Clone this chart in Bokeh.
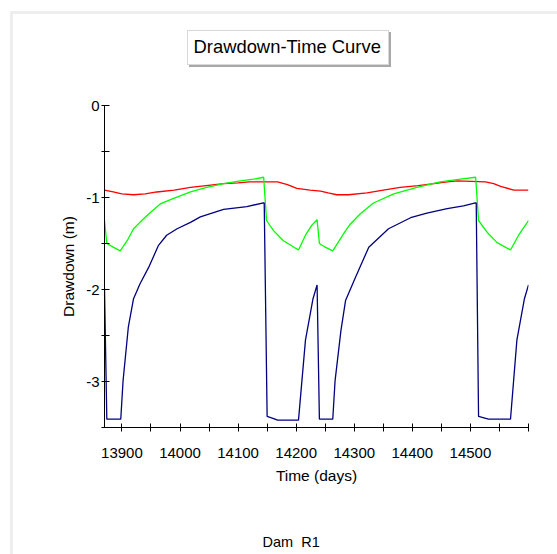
from bokeh.plotting import figure
from bokeh.models import Range1d, FixedTicker, Title
from bokeh.embed import file_html
from bokeh.resources import INLINE

# ---- data ----
red_t = [13870, 13885, 13900, 13920, 13940, 13960, 13990, 14018, 14045, 14075, 14100,
         14120, 14145, 14168, 14185, 14201, 14224, 14242, 14255, 14270, 14290, 14322,
         14350, 14379, 14410, 14437, 14460, 14477, 14526, 14540, 14552, 14575, 14600]
red_v = [-0.92, -0.94, -0.96, -0.97, -0.96, -0.94, -0.92, -0.89, -0.87, -0.85, -0.84,
         -0.83, -0.83, -0.83, -0.86, -0.90, -0.92, -0.93, -0.95, -0.97, -0.97, -0.95,
         -0.92, -0.89, -0.87, -0.85, -0.83, -0.82, -0.83, -0.85, -0.88, -0.92, -0.92]

green_t = [13870, 13874, 13885, 13897, 13909, 13920, 13931, 13946, 13966, 13989, 14018,
           14046, 14075, 14104, 14127, 14144, 14149, 14161, 14178, 14204, 14216, 14227,
           14236, 14240, 14250, 14263, 14282, 14293, 14310, 14333, 14368, 14408, 14448,
           14483, 14509, 14514, 14529, 14546, 14569, 14583, 14600]
green_v = [-1.25, -1.50, -1.54, -1.58, -1.47, -1.34, -1.27, -1.18, -1.07, -1.01, -0.94,
           -0.89, -0.85, -0.82, -0.80, -0.78, -1.25, -1.36, -1.47, -1.57, -1.41, -1.30,
           -1.24, -1.50, -1.54, -1.58, -1.39, -1.29, -1.18, -1.06, -0.96, -0.89, -0.83,
           -0.80, -0.78, -1.25, -1.38, -1.49, -1.57, -1.41, -1.25]

blue_t = [13870, 13874, 13898, 13902, 13911, 13920, 13931, 13946, 13963, 13977, 13995,
          14018, 14035, 14075, 14115, 14142, 14145, 14150, 14160, 14168, 14204, 14216,
          14229, 14236, 14240, 14263, 14267, 14277, 14285, 14302, 14325, 14359, 14397,
          14425, 14460, 14488, 14507, 14510, 14514, 14531, 14569, 14580, 14593, 14600]
blue_v = [-1.99, -3.41, -3.41, -2.99, -2.41, -2.10, -1.94, -1.76, -1.52, -1.41, -1.34,
          -1.27, -1.21, -1.13, -1.10, -1.06, -1.06, -3.38, -3.40, -3.42, -3.42, -2.55,
          -2.10, -1.95, -3.41, -3.41, -2.99, -2.45, -2.12, -1.87, -1.54, -1.34, -1.22,
          -1.17, -1.12, -1.09, -1.06, -1.06, -3.38, -3.41, -3.41, -2.55, -2.10, -1.95]

x_tick_values = [13900, 13950, 14000, 14050, 14100, 14150, 14200, 14250, 14300,
                 14350, 14400, 14450, 14500, 14550, 14600]
x_tick_labels = ["13900", "", "14000", "", "14100", "", "14200", "", "14300",
                 "", "14400", "", "14500", "", ""]
y_tick_values = [0, -0.5, -1, -1.5, -2, -2.5, -3, -3.5]
y_tick_labels = ["0", "", "-1", "", "-2", "", "-3", ""]

title_text = "Drawdown-Time Curve"
x_label = "Time (days)"
y_label = "Drawdown (m)"
footer_text = "Dam\u00a0 R1"

FONT = "Liberation Sans"

p = figure(width=557, height=554, x_range=Range1d(13870, 14600), y_range=Range1d(-3.5, 0),
           output_backend="svg", toolbar_location=None, title=None,
           min_border_left=104, min_border_right=29, min_border_top=105, min_border_bottom=127)
p.outline_line_color = None
p.grid.visible = False
p.background_fill_color = "white"
p.border_fill_color = None

# decorative panel frame (top/left light lines) and title box with shadow, painted behind
# the transparent canvas border
p.styles = {
    "background-color": "white",
    "background-image": ("linear-gradient(#ffffff,#ffffff), linear-gradient(#d8d8d8,#d8d8d8), "
                         "linear-gradient(#a8a8a8,#a8a8a8), linear-gradient(#eeeeee,#eeeeee), "
                         "linear-gradient(#eeeeee,#eeeeee)"),
    "background-size": "200px 33px, 202px 35px, 202px 35px, 547px 3px, 3px 543px",
    "background-position": "188px 31px, 187px 30px, 189px 32px, 10px 11px, 10px 11px",
    "background-repeat": "no-repeat",
}

p.line(red_t, red_v, line_color="#ff0000", line_width=1.3)
p.line(green_t, green_v, line_color="#00ff00", line_width=1.3)
p.line(blue_t, blue_v, line_color="#000080", line_width=1.3)

for ax, vals, labs in ((p.xaxis[0], x_tick_values, x_tick_labels),
                       (p.yaxis[0], y_tick_values, y_tick_labels)):
    ax.ticker = FixedTicker(ticks=vals)
    ax.major_label_overrides = {v: l for v, l in zip(vals, labs)}
    ax.minor_tick_line_color = None
    ax.major_tick_in = 4
    ax.major_tick_out = 4
    ax.axis_line_color = "black"
    ax.major_tick_line_color = "black"
    ax.major_label_text_font = FONT
    ax.major_label_text_font_size = "15px"
    ax.major_label_text_color = "black"
    ax.axis_label_text_font = FONT
    ax.axis_label_text_font_size = "15.5px"
    ax.axis_label_text_font_style = "normal"
    ax.axis_label_text_color = "black"

p.xaxis.axis_label = x_label
p.yaxis.axis_label = y_label
p.xaxis.major_label_standoff = 16
p.xaxis.axis_label_standoff = 6
p.yaxis.major_tick_out = 3
p.yaxis.major_tick_in = 5
p.yaxis.major_label_standoff = 2
p.yaxis.axis_label_standoff = 6

has_standoff = "standoff" in Title.properties()


def gap(size):
    # blank title used only to reserve space in a side panel
    return Title(text="\u00a0", text_font=FONT, text_font_size="12px",
                 **({"standoff": size} if has_standoff else {}))


p.add_layout(gap(28), "above")
top_title = Title(text=title_text, align="left", offset=89, text_font=FONT,
                  text_font_size="18.4px", text_font_style="normal", text_color="black",
                  **({"standoff": 10} if has_standoff else {}))
p.add_layout(top_title, "above")

p.add_layout(gap(28), "below")
foot = Title(text=footer_text, align="left", offset=158, text_font=FONT,
             text_font_size="14.5px", text_font_style="normal", text_color="black",
             **({"standoff": 2} if has_standoff else {}))
p.add_layout(foot, "below")

open("out.html", "w").write(file_html(p, INLINE))
